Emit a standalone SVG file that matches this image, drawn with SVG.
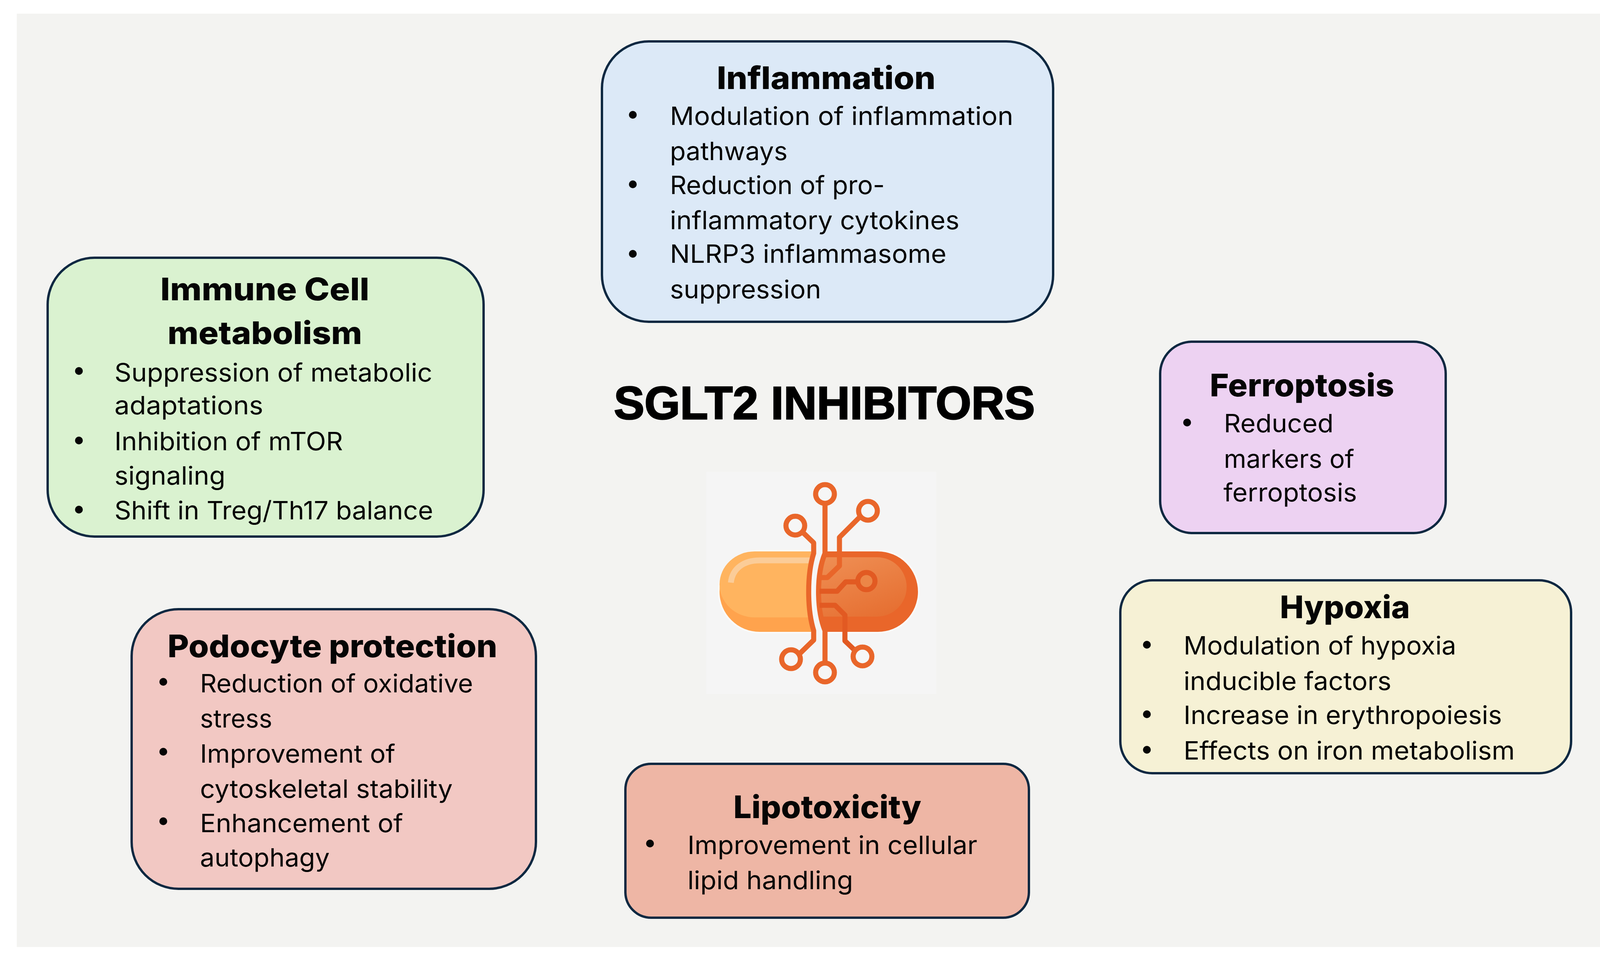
<svg xmlns="http://www.w3.org/2000/svg" width="4168" height="2466" viewBox="0 0 4168 2466">
<style>
text{font-family:"Inter","Roboto","Liberation Sans",sans-serif;fill:#050505}
.t{font-size:80px;font-weight:800;text-anchor:middle}
.b{font-size:65px}
.main{font-family:"Liberation Sans",Arial,sans-serif;font-size:119px;font-weight:700;text-anchor:middle;fill:#000;stroke:#000;stroke-width:3}
.box{stroke:#0E2841;stroke-width:6}
.dot{fill:#050505}
.c{fill:none;stroke:#E9662A;stroke-width:13;stroke-linejoin:round}
.d{fill:none;stroke:#E25A22;stroke-width:13;stroke-linejoin:round}
.ring{fill:#F6F6F6;stroke:#E9662A;stroke-width:13}
</style>
<defs>
<linearGradient id="rg" x1="0" y1="0" x2="1" y2="1"><stop offset="0" stop-color="#F29A60"/><stop offset="1" stop-color="#E56C2E"/></linearGradient>
<clipPath id="cl"><path d="M1800 1400H2083V1417C2066 1470 2066 1560 2083 1615V1630H1800Z"/></clipPath>
<clipPath id="cr"><path d="M2112 1400H2400V1630H2112V1615C2090 1560 2090 1470 2112 1417Z"/></clipPath>
</defs>
<rect width="4168" height="2466" fill="#FFFFFF"/>
<rect id="background" x="43" y="35" width="4092" height="2390" fill="#F3F3F1"/>
<g id="title"><text class="main" x="2110.500" y="1073" textLength="1078" lengthAdjust="spacingAndGlyphs">SGLT2 INHIBITORS</text></g>
<g id="inflammation">
<rect class="box" x="1541" y="106" width="1155" height="718" rx="120" fill="#DCE9F7"/>
<text class="t" x="2115" y="228" textLength="560" lengthAdjust="spacingAndGlyphs">Inflammation</text>
<circle class="dot" cx="1620" cy="294" r="10"/><circle class="dot" cx="1620" cy="472" r="10"/><circle class="dot" cx="1620" cy="650" r="10"/>
<text class="b" x="1715" y="320" textLength="879" lengthAdjust="spacingAndGlyphs">Modulation of inflammation</text>
<text class="b" x="1715" y="410" textLength="301" lengthAdjust="spacingAndGlyphs">pathways</text>
<text class="b" x="1715" y="497" textLength="550" lengthAdjust="spacingAndGlyphs">Reduction of pro-</text>
<text class="b" x="1715" y="587" textLength="741" lengthAdjust="spacingAndGlyphs">inflammatory cytokines</text>
<text class="b" x="1715" y="673" textLength="708" lengthAdjust="spacingAndGlyphs">NLRP3 inflammasome</text>
<text class="b" x="1715" y="764" textLength="387" lengthAdjust="spacingAndGlyphs">suppression</text>
</g>
<g id="immune-cell-metabolism">
<rect class="box" x="122" y="660" width="1116" height="714" rx="120" fill="#DAF2D0"/>
<text class="t" x="678" y="769" textLength="535" lengthAdjust="spacingAndGlyphs">Immune Cell</text>
<text class="t" x="678" y="881" textLength="498" lengthAdjust="spacingAndGlyphs">metabolism</text>
<circle class="dot" cx="202" cy="950" r="10"/><circle class="dot" cx="202" cy="1128" r="10"/><circle class="dot" cx="202" cy="1305" r="10"/>
<text class="b" x="293" y="977" textLength="814" lengthAdjust="spacingAndGlyphs">Suppression of metabolic</text>
<text class="b" x="293" y="1061" textLength="381" lengthAdjust="spacingAndGlyphs">adaptations</text>
<text class="b" x="293" y="1153" textLength="585" lengthAdjust="spacingAndGlyphs">Inhibition of mTOR</text>
<text class="b" x="293" y="1241" textLength="284" lengthAdjust="spacingAndGlyphs">signaling</text>
<text class="b" x="293" y="1330" textLength="816" lengthAdjust="spacingAndGlyphs">Shift in Treg/Th17 balance</text>
</g>
<g id="podocyte-protection">
<rect class="box" x="337" y="1560" width="1035" height="716" rx="120" fill="#F2C8C3"/>
<text class="t" x="851" y="1683" textLength="844" lengthAdjust="spacingAndGlyphs">Podocyte protection</text>
<circle class="dot" cx="418" cy="1746" r="10"/><circle class="dot" cx="418" cy="1925" r="10"/><circle class="dot" cx="418" cy="2103" r="10"/>
<text class="b" x="512" y="1773" textLength="699" lengthAdjust="spacingAndGlyphs">Reduction of oxidative</text>
<text class="b" x="512" y="1863" textLength="185" lengthAdjust="spacingAndGlyphs">stress</text>
<text class="b" x="512" y="1953" textLength="500" lengthAdjust="spacingAndGlyphs">Improvement of</text>
<text class="b" x="512" y="2043" textLength="647" lengthAdjust="spacingAndGlyphs">cytoskeletal stability</text>
<text class="b" x="512" y="2131" textLength="520" lengthAdjust="spacingAndGlyphs">Enhancement of</text>
<text class="b" x="512" y="2219" textLength="332" lengthAdjust="spacingAndGlyphs">autophagy</text>
</g>
<g id="lipotoxicity">
<rect class="box" x="1601" y="1956" width="1033" height="394" rx="66" fill="#EEB6A5"/>
<text class="t" x="2118" y="2095" textLength="481" lengthAdjust="spacingAndGlyphs">Lipotoxicity</text>
<circle class="dot" cx="1664" cy="2160" r="10"/>
<text class="b" x="1760" y="2187" textLength="742" lengthAdjust="spacingAndGlyphs">Improvement in cellular</text>
<text class="b" x="1760" y="2277" textLength="424" lengthAdjust="spacingAndGlyphs">lipid handling</text>
</g>
<g id="hypoxia">
<rect class="box" x="2868" y="1486" width="1154" height="494" rx="82" fill="#F6F1D5"/>
<text class="t" x="3443" y="1583" textLength="333" lengthAdjust="spacingAndGlyphs">Hypoxia</text>
<circle class="dot" cx="2936" cy="1651" r="10"/><circle class="dot" cx="2936" cy="1829" r="10"/><circle class="dot" cx="2936" cy="1920" r="10"/>
<text class="b" x="3030" y="1676" textLength="698" lengthAdjust="spacingAndGlyphs">Modulation of hypoxia</text>
<text class="b" x="3030" y="1767" textLength="532" lengthAdjust="spacingAndGlyphs">inducible factors</text>
<text class="b" x="3030" y="1854" textLength="815" lengthAdjust="spacingAndGlyphs">Increase in erythropoiesis</text>
<text class="b" x="3030" y="1945" textLength="848" lengthAdjust="spacingAndGlyphs">Effects on iron metabolism</text>
</g>
<g id="ferroptosis">
<rect class="box" x="2970" y="875" width="731" height="490" rx="82" fill="#EDD2F2"/>
<text class="t" x="3333" y="1015" textLength="472" lengthAdjust="spacingAndGlyphs">Ferroptosis</text>
<circle class="dot" cx="3039" cy="1082" r="10"/>
<text class="b" x="3133" y="1107" textLength="281" lengthAdjust="spacingAndGlyphs">Reduced</text>
<text class="b" x="3133" y="1198" textLength="334" lengthAdjust="spacingAndGlyphs">markers of</text>
<text class="b" x="3132" y="1284" textLength="342" lengthAdjust="spacingAndGlyphs">ferroptosis</text>
</g>
<g id="pill-icon">
<rect x="1808" y="1208" width="589" height="569" fill="#F5F5F5"/>
<rect x="1838" y="1408" width="516" height="214" rx="106" fill="#FAFAFA"/>
<rect x="2083" y="1400" width="29" height="230" fill="#F5F5F5"/>
<g clip-path="url(#cl)">
<rect x="1842" y="1412" width="508" height="206" rx="103" fill="#FFA34D"/>
<rect x="1842" y="1412" width="420" height="169" rx="90" fill="#FFB45F"/>
<path d="M1871 1492C1875 1455 1905 1435 1945 1435H2075" fill="none" stroke="#FBCC98" stroke-width="15"/>
</g>
<g clip-path="url(#cr)">
<rect x="1842" y="1412" width="508" height="206" rx="103" fill="#E9662A"/>
<rect x="1900" y="1427" width="421" height="152" rx="76" fill="url(#rg)"/>
</g>
<g>
<path class="c" d="M2112 1292V1417C2090 1470 2090 1560 2112 1615V1696"/>
<path class="c" d="M2201 1324L2149 1376V1449L2118 1479H2098"/>
<path class="c" d="M2056 1364L2083 1390V1417C2066 1470 2066 1560 2083 1615V1639L2047 1674"/>
<path class="d" d="M2098 1514H2143L2165 1490H2196"/>
<path class="d" d="M2098 1550H2138L2163 1575V1641L2187 1664"/>
</g>
<circle class="ring" cx="2112" cy="1265" r="24"/><circle class="ring" cx="2222" cy="1308" r="24"/><circle class="ring" cx="2036" cy="1346" r="24"/><circle class="ring" cx="2025" cy="1688" r="24"/><circle class="ring" cx="2112" cy="1722" r="24"/><circle class="ring" cx="2208" cy="1681" r="24"/>
<circle cx="2218" cy="1488" r="22" fill="#EC8647" stroke="#E25A22" stroke-width="13"/>
</g>
</svg>
